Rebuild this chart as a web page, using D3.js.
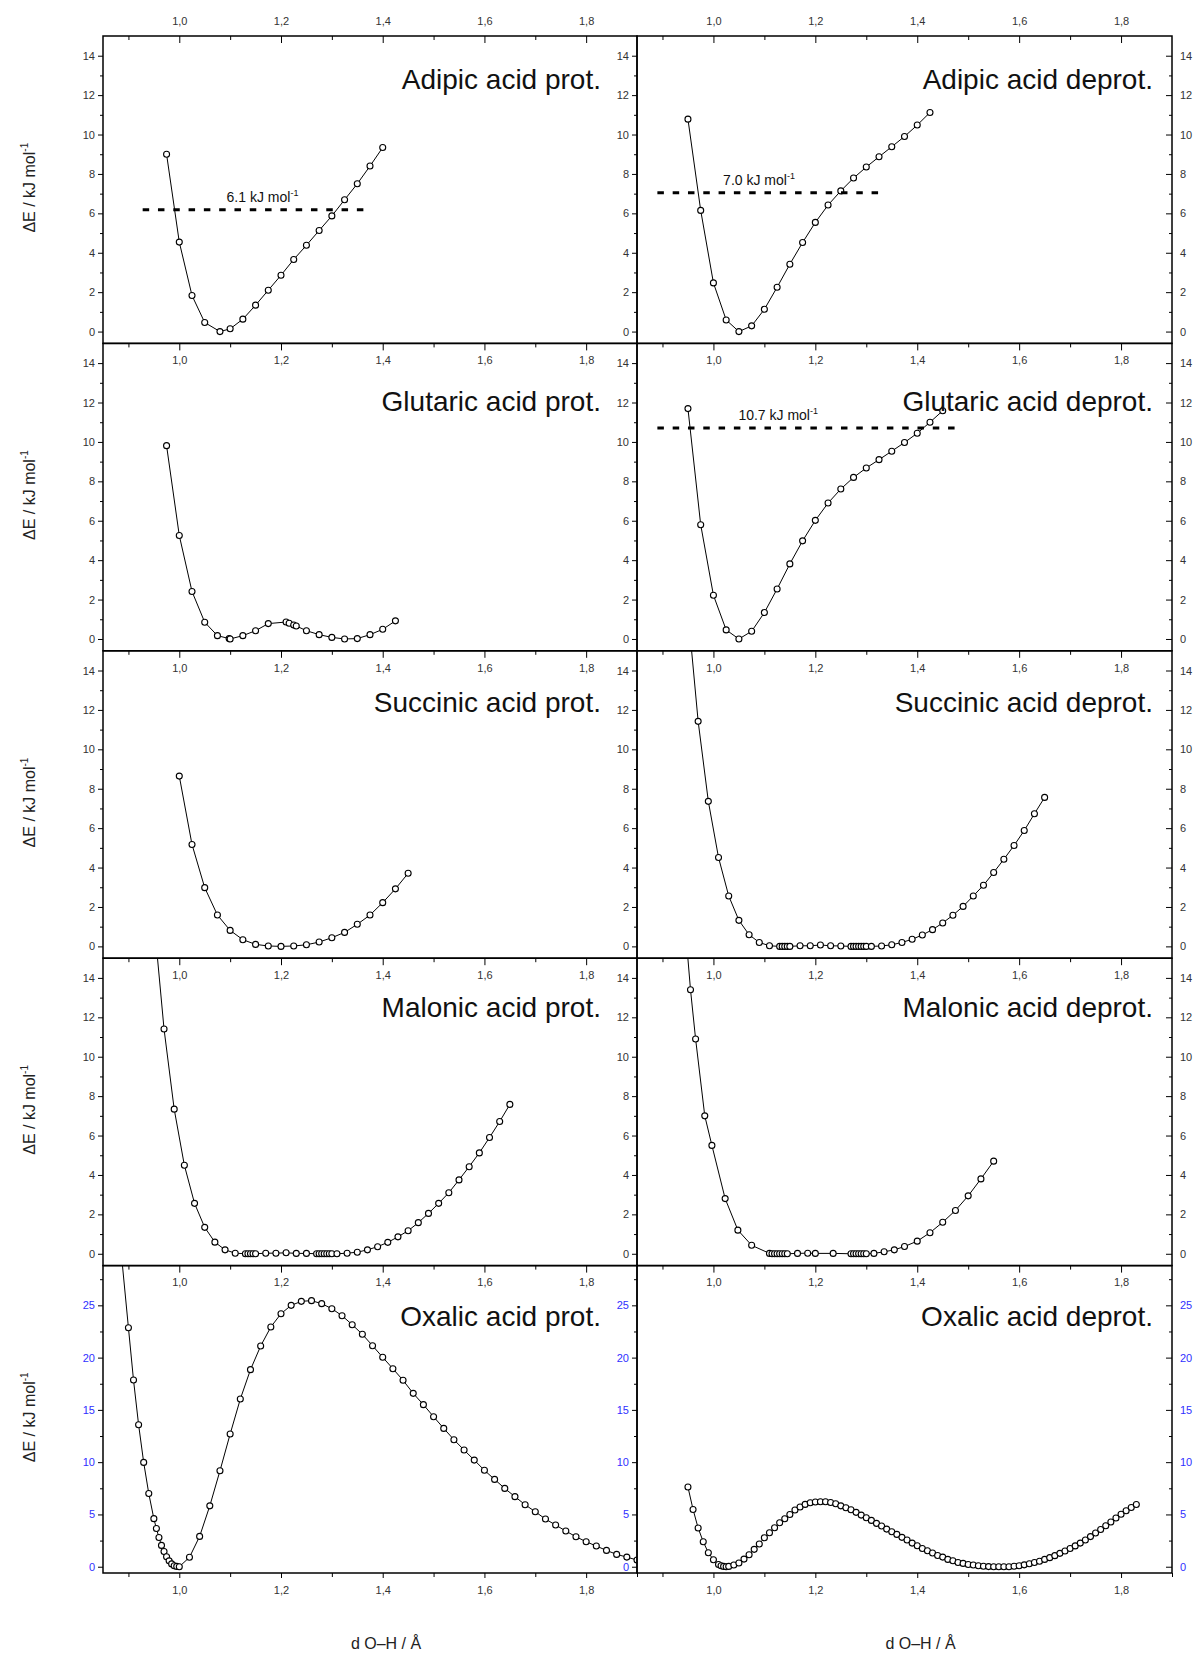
<!DOCTYPE html>
<html><head><meta charset="utf-8">
<script src="https://cdn.jsdelivr.net/npm/d3@7"></script>
<style>body{margin:0;background:#fff}svg{display:block;font-family:"Liberation Sans",Arial,sans-serif}</style>
</head><body><svg id="c" width="1194" height="1653"></svg>
<script>
// ---------------- data ----------------
const xDomain = [0.85, 1.9];
const yDomainSmall = [-0.6, 15];
const yDomainOxalic = [-0.6, 28.8];
const xMajorTicks = [1.0, 1.2, 1.4, 1.6, 1.8];
const xMinorTicks = [0.9, 1.1, 1.3, 1.5, 1.7];
const yMajorSmall = [0, 2, 4, 6, 8, 10, 12, 14];
const yMinorSmall = [1, 3, 5, 7, 9, 11, 13];
const yMajorOxalic = [0, 5, 10, 15, 20, 25];
const yMinorOxalic = [2.5, 7.5, 12.5, 17.5, 22.5, 27.5];

const titles = ["Adipic acid prot.", "Adipic acid deprot.", "Glutaric acid prot.", "Glutaric acid deprot.",
  "Succinic acid prot.", "Succinic acid deprot.", "Malonic acid prot.", "Malonic acid deprot.",
  "Oxalic acid prot.", "Oxalic acid deprot."];

const adipicProtX = [0.975,1.0,1.025,1.05,1.08,1.1,1.125,1.15,1.175,1.2,1.225,1.25,1.275,1.3,1.325,1.35,1.375,1.4];
const adipicProtY = [9.0,4.54,1.83,0.46,0.0,0.14,0.63,1.34,2.10,2.86,3.66,4.38,5.13,5.87,6.69,7.50,8.40,9.34];

const adipicDeprotX = [0.95,0.975,1.0,1.025,1.05,1.075,1.1,1.125,1.15,1.175,1.2,1.225,1.25,1.275,1.3,1.325,1.35,1.375,1.4,1.425];
const adipicDeprotY = [10.78,6.15,2.47,0.59,0.0,0.29,1.13,2.25,3.42,4.52,5.54,6.42,7.14,7.79,8.35,8.87,9.38,9.90,10.48,11.12];

const glutaricProtX = [0.975,1.0,1.025,1.05,1.075,1.098,1.1,1.125,1.15,1.175,1.21,1.216,1.225,1.23,1.25,1.275,1.3,1.325,1.35,1.375,1.4,1.425];
const glutaricProtY = [9.81,5.25,2.41,0.85,0.17,0.02,0.0,0.17,0.42,0.78,0.86,0.80,0.71,0.66,0.42,0.22,0.08,0.0,0.02,0.22,0.49,0.92];

const glutaricDeprotX = [0.95,0.975,1.0,1.025,1.05,1.075,1.1,1.125,1.15,1.175,1.2,1.225,1.25,1.275,1.3,1.325,1.35,1.375,1.4,1.425,1.45];
const glutaricDeprotY = [11.69,5.80,2.22,0.46,0.0,0.39,1.34,2.54,3.81,4.98,6.02,6.90,7.61,8.20,8.68,9.10,9.53,9.97,10.44,11.0,11.58];

const succinicProtX = [1.0,1.025,1.05,1.075,1.1,1.125,1.15,1.175,1.2,1.225,1.25,1.275,1.3,1.325,1.35,1.375,1.4,1.425,1.45];
const succinicProtY = [8.64,5.17,2.98,1.59,0.81,0.34,0.10,0.02,0.0,0.02,0.08,0.22,0.44,0.71,1.12,1.59,2.22,2.92,3.71];

const succinicDeprotX = [0.95,0.97,0.99,1.01,1.03,1.05,1.07,1.09,1.11,
  1.13,1.135,1.14,1.145,1.15,
  1.17,1.19,1.21,1.23,1.25,
  1.27,1.275,1.28,1.285,1.29,1.295,1.30,
  1.31,1.33,1.35,1.37,1.39,1.41,1.43,1.45,1.47,1.49,1.51,1.53,1.55,1.57,1.59,1.61,1.63,1.65];
const succinicDeprotY = [17.0,11.42,7.36,4.51,2.56,1.32,0.59,0.20,0.03,
  0.0,0.0,0.0,0.0,0.0,
  0.03,0.03,0.07,0.03,0.02,
  0.0,0.0,0.0,0.0,0.0,0.0,0.0,
  0.0,0.02,0.08,0.20,0.36,0.58,0.85,1.19,1.58,2.03,2.56,3.10,3.75,4.42,5.12,5.88,6.73,7.56];

const malonicProtX = [0.95,0.97,0.99,1.01,1.03,1.05,1.07,1.09,1.11,
  1.13,1.135,1.14,1.145,1.15,
  1.17,1.19,1.21,1.23,1.25,
  1.27,1.275,1.28,1.285,1.29,1.295,1.30,
  1.31,1.33,1.35,1.37,1.39,1.41,1.43,1.45,1.47,1.49,1.51,1.53,1.55,1.57,1.59,1.61,1.63,1.65];
const malonicProtY = [17.0,11.41,7.34,4.49,2.56,1.34,0.59,0.20,0.03,
  0.0,0.0,0.0,0.0,0.0,
  0.03,0.03,0.05,0.02,0.02,
  0.0,0.0,0.0,0.0,0.0,0.0,0.0,
  0.0,0.03,0.08,0.20,0.36,0.58,0.86,1.17,1.58,2.05,2.56,3.10,3.75,4.42,5.12,5.90,6.71,7.58];

const malonicDeprotX = [0.945,0.955,0.965,0.983,0.997,1.023,1.048,1.075,
  1.11,1.115,1.12,1.125,1.13,1.135,1.14,1.145,
  1.165,1.185,1.2,1.235,
  1.27,1.275,1.28,1.285,1.29,1.295,1.30,
  1.315,1.335,1.355,1.375,1.4,1.425,1.45,1.475,1.5,1.525,1.55];
const malonicDeprotY = [16.5,13.4,10.9,7.0,5.5,2.8,1.2,0.43,
  0.02,0.0,0.0,0.0,0.0,0.0,0.0,0.0,
  0.02,0.03,0.02,0.02,
  0.0,0.0,0.0,0.0,0.0,0.0,0.0,
  0.02,0.1,0.2,0.37,0.64,1.07,1.6,2.2,2.94,3.8,4.7];

const oxalicProtX = [0.88,0.90,0.91,0.92,0.93,0.94,0.95,0.955,0.96,0.965,0.97,0.975,0.98,0.985,0.99,0.995,1.0,
  1.02,1.04,1.06,1.08,1.10,1.12,1.14,1.16,1.18,1.20,
  1.22,1.24,1.26,1.28,1.30,1.32,1.34,1.36,1.38,1.40,
  1.42,1.44,1.46,1.48,1.50,1.52,1.54,1.56,1.58,1.60,
  1.62,1.64,1.66,1.68,1.70,1.72,1.74,1.76,1.78,1.80,
  1.82,1.84,1.86,1.88,1.90];
const oxalicProtY = [33.0,22.86,17.86,13.58,9.98,7.0,4.6,3.65,2.8,2.04,1.45,0.96,0.56,0.27,0.10,0.03,0.0,
  0.90,2.90,5.82,9.18,12.69,16.04,18.85,21.11,22.93,24.2,
  25.0,25.38,25.45,25.16,24.68,24.01,23.15,22.23,21.14,20.03,
  18.94,17.83,16.58,15.50,14.35,13.23,12.15,11.16,10.20,9.22,
  8.35,7.49,6.70,5.93,5.26,4.56,3.99,3.41,2.87,2.39,
  1.98,1.56,1.18,0.92,0.64];

const oxalicDeprotX = [0.95,0.96,0.97,0.98,0.99,1.0,1.01,1.015,1.02,1.025,1.03,
  1.04,1.05,1.06,1.07,1.08,1.09,1.10,1.11,1.12,1.13,1.14,1.15,1.16,1.17,1.18,1.19,
  1.20,1.21,1.22,1.23,1.24,1.25,1.26,1.27,1.28,1.29,1.30,1.31,1.32,1.33,1.34,1.35,
  1.36,1.37,1.38,1.39,1.40,1.41,1.42,1.43,1.44,1.45,1.46,1.47,1.48,1.49,1.50,
  1.51,1.52,1.53,1.54,1.55,1.56,1.57,1.58,1.59,1.60,1.61,1.62,1.63,1.64,1.65,
  1.66,1.67,1.68,1.69,1.70,1.71,1.72,1.73,1.74,1.75,1.76,1.77,1.78,1.79,1.80,
  1.81,1.82,1.83];
const oxalicDeprotY = [7.62,5.48,3.70,2.39,1.34,0.67,0.22,0.10,0.03,0.0,0.03,
  0.16,0.35,0.73,1.15,1.66,2.17,2.77,3.25,3.73,4.21,4.59,5.0,5.42,5.71,5.96,6.12,
  6.19,6.21,6.21,6.14,6.03,5.82,5.64,5.45,5.20,4.94,4.69,4.43,4.15,3.89,3.60,3.35,
  3.09,2.81,2.55,2.26,2.01,1.75,1.53,1.31,1.08,0.92,0.70,0.57,0.41,0.32,0.22,
  0.16,0.09,0.04,0.01,0.0,0.0,0.0,0.0,0.04,0.10,0.18,0.28,0.40,0.53,0.70,
  0.87,1.06,1.28,1.50,1.74,1.99,2.26,2.56,2.88,3.22,3.56,3.92,4.28,4.66,5.02,
  5.35,5.66,5.95];

// reference levels (dotted lines) with their labels
const refPanels = [0, 1, 3];
const refX0 = [0.928, 0.89, 0.89];
const refX1 = [1.365, 1.331, 1.481];
const refLevel = [6.18, 7.05, 10.71];
const refLabelX = [1.093, 1.019, 1.049];
const refLabels = ["6.1 kJ mol", "7.0 kJ mol", "10.7 kJ mol"];

const seriesX = [adipicProtX, adipicDeprotX, glutaricProtX, glutaricDeprotX, succinicProtX, succinicDeprotX,
  malonicProtX, malonicDeprotX, oxalicProtX, oxalicDeprotX];
const seriesY = [adipicProtY, adipicDeprotY, glutaricProtY, glutaricDeprotY, succinicProtY, succinicDeprotY,
  malonicProtY, malonicDeprotY, oxalicProtY, oxalicDeprotY];

// ---------------- layout ----------------
const svg = d3.select("#c");
const colX = [[103, 637], [637, 1172]];
const rowTop = 36, rowH = 307.4, nRows = 5;
const titleBase = [53, 68, 61, 59, 60];
const titleEnd = [601, 1153];
const tickColor = "#333";
const blue = "#3030ff";
const fmtX = d => d3.format(".1f")(d).replace(".", ",");

const defs = svg.append("defs");

function styleAxis(g, color) {
  g.attr("font-family", null).attr("font-size", null);
  g.select(".domain").remove();
  g.selectAll(".tick line").attr("stroke", "#000").attr("stroke-width", 1);
  g.selectAll(".tick text").attr("fill", color || tickColor).attr("font-size", 11);
}

for (let i = 0; i < 10; i++) {
  const r = Math.floor(i / 2), c = i % 2;
  const x0 = colX[c][0], x1 = colX[c][1];
  const y0 = rowTop + r * rowH, y1 = y0 + rowH;
  const ox = r === 4;
  const xs = d3.scaleLinear().domain(xDomain).range([x0, x1]);
  const ys = d3.scaleLinear().domain(ox ? yDomainOxalic : yDomainSmall).range([y1, y0]);
  const yMaj = ox ? yMajorOxalic : yMajorSmall;
  const yMin = ox ? yMinorOxalic : yMinorSmall;
  const labCol = ox ? blue : tickColor;

  const g = svg.append("g");

  // top x axis (ticks pointing inward)
  if (r === 0) {
    const a = g.append("g").attr("transform", `translate(0,${y0})`)
      .call(d3.axisTop(xs).tickValues(xMajorTicks).tickSize(-7).tickPadding(11).tickFormat(fmtX));
    styleAxis(a);
  } else {
    const a = g.append("g").attr("transform", `translate(0,${y0})`)
      .call(d3.axisBottom(xs).tickValues(xMajorTicks).tickSize(7).tickPadding(6).tickFormat(fmtX));
    styleAxis(a);
  }
  const am = g.append("g").attr("transform", `translate(0,${y0})`)
    .call(d3.axisBottom(xs).tickValues(xMinorTicks).tickSize(4).tickFormat(""));
  styleAxis(am);

  // bottom axis for last row
  if (r === nRows - 1) {
    const b = g.append("g").attr("transform", `translate(0,${y1})`)
      .call(d3.axisBottom(xs).tickValues(xMajorTicks).tickSize(5).tickPadding(8).tickFormat(fmtX));
    styleAxis(b);
    const bm = g.append("g").attr("transform", `translate(0,${y1})`)
      .call(d3.axisBottom(xs).tickValues(xMinorTicks.concat([1.9])).tickSize(4).tickFormat(""));
    styleAxis(bm);
  }

  // left y axis (outward)
  const la = g.append("g").attr("transform", `translate(${x0},0)`)
    .call(d3.axisLeft(ys).tickValues(yMaj).tickSize(5).tickPadding(3).tickFormat(d3.format("d")));
  styleAxis(la, labCol);
  const lm = g.append("g").attr("transform", `translate(${x0},0)`)
    .call(d3.axisLeft(ys).tickValues(yMin).tickSize(3).tickFormat(""));
  styleAxis(lm);

  // right y axis for right column (inward ticks, labels outside)
  if (c === 1) {
    const ra = g.append("g").attr("transform", `translate(${x1},0)`)
      .call(d3.axisRight(ys).tickValues(yMaj).tickSize(-6).tickPadding(8).tickFormat(d3.format("d")));
    styleAxis(ra, labCol);
    const rm = g.append("g").attr("transform", `translate(${x1},0)`)
      .call(d3.axisRight(ys).tickValues(yMin).tickSize(-3).tickFormat(""));
    styleAxis(rm);
  }

  // clip
  const cid = "clip" + i;
  defs.append("clipPath").attr("id", cid).append("rect")
    .attr("x", x0).attr("y", y0).attr("width", x1 - x0).attr("height", y1 - y0);

  const pts = seriesX[i].map((x, k) => [x, seriesY[i][k]]);
  const pg = g.append("g").attr("clip-path", `url(#${cid})`);
  pg.append("path").datum(pts)
    .attr("d", d3.line().x(d => xs(d[0])).y(d => ys(d[1])))
    .attr("fill", "none").attr("stroke", "#000").attr("stroke-width", 1);
  pg.selectAll("circle").data(pts).join("circle")
    .attr("cx", d => xs(d[0])).attr("cy", d => ys(d[1])).attr("r", 3)
    .attr("fill", "#fff").attr("stroke", "#000").attr("stroke-width", 1.1);

  // reference line
  const ri = refPanels.indexOf(i);
  if (ri >= 0) {
    g.append("line")
      .attr("x1", xs(refX0[ri])).attr("x2", xs(refX1[ri]))
      .attr("y1", ys(refLevel[ri])).attr("y2", ys(refLevel[ri]))
      .attr("stroke", "#000").attr("stroke-width", 3).attr("stroke-dasharray", "6.5,8.8");
    const t = g.append("text").attr("x", xs(refLabelX[ri])).attr("y", ys(refLevel[ri]) - 8)
      .attr("font-size", 14).attr("fill", "#111").text(refLabels[ri]);
    t.append("tspan").attr("font-size", 9).attr("dy", -6).text("-1");
  }

  // frame
  g.append("rect").attr("x", x0).attr("y", y0).attr("width", x1 - x0).attr("height", y1 - y0)
    .attr("fill", "none").attr("stroke", "#000").attr("stroke-width", 1.5);

  // title
  g.append("text").attr("x", titleEnd[c]).attr("y", y0 + titleBase[r])
    .attr("text-anchor", "end").attr("font-size", 28).attr("fill", "#111").text(titles[i]);

  // y-axis title (left column only)
  if (c === 0) {
    const t = svg.append("text")
      .attr("transform", `translate(35,${y0 + rowH / 2 - 2}) rotate(-90)`)
      .attr("text-anchor", "middle").attr("font-size", 16).attr("fill", "#222")
      .text("\u0394E / kJ mol");
    t.append("tspan").attr("font-size", 10).attr("dy", -7).text("-1");
  }
}

// x-axis titles
colX.forEach(cx => {
  svg.append("text").attr("x", (cx[0] + cx[1]) / 2 + 16).attr("y", 1649)
    .attr("text-anchor", "middle").attr("font-size", 16).attr("fill", "#222")
    .text("d O\u2013H / \u00C5");
});
</script></body></html>
